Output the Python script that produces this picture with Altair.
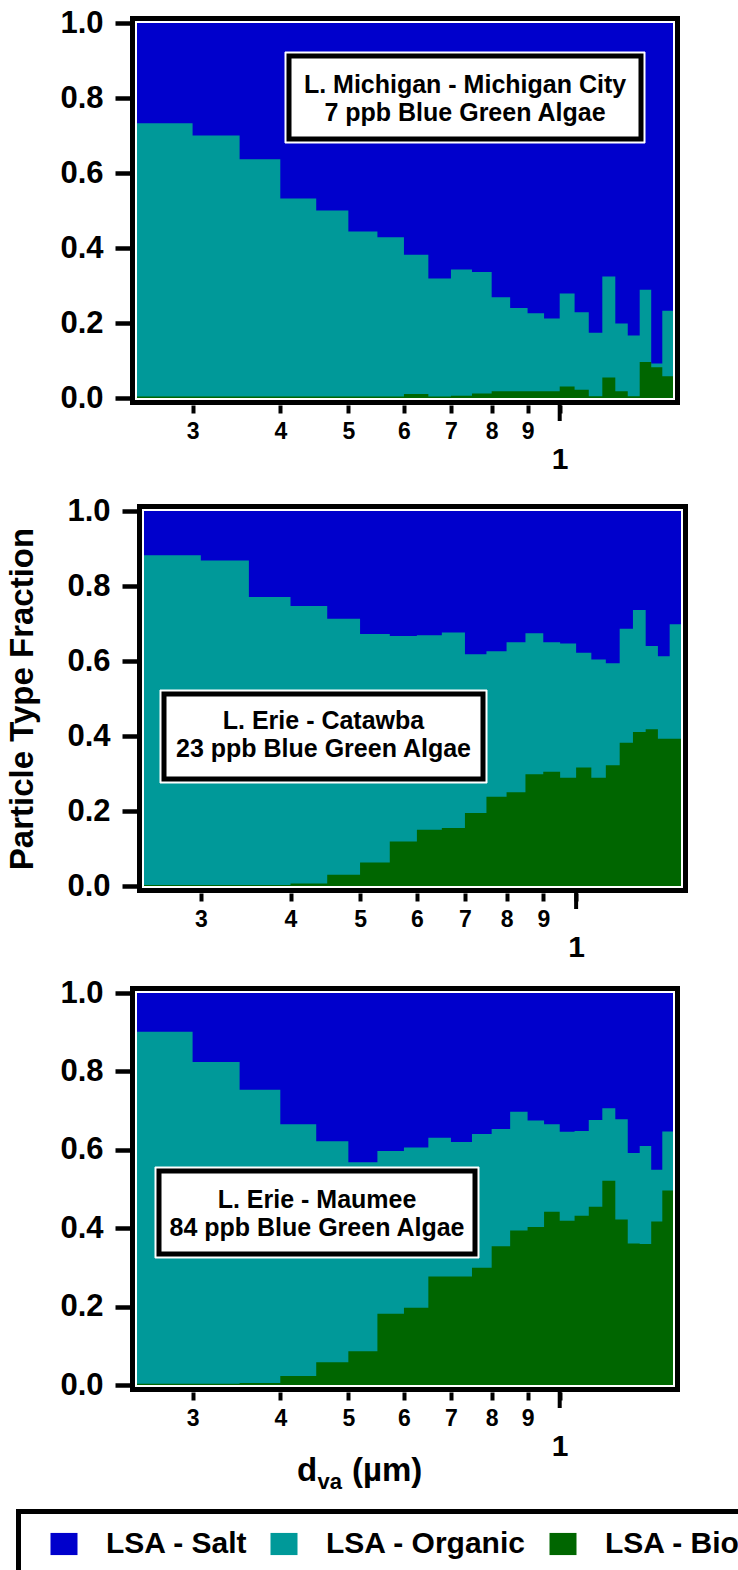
import altair as alt
import pandas as pd

FONT = "Liberation Sans"

# ---- bin edges (dva, micrometres) ----
EDGES_A = [0.25, 0.30, 0.35, 0.40, 0.45, 0.50, 0.55, 0.60, 0.65, 0.70, 0.75, 0.80, 0.85,
           0.90, 0.95, 1.00, 1.05, 1.10, 1.15, 1.20, 1.25, 1.30, 1.35, 1.40, 1.45]
EDGES_B = [0.25, 0.30, 0.35, 0.40, 0.45, 0.50, 0.55, 0.60, 0.65, 0.70, 0.75, 0.80, 0.85,
           0.90, 0.95, 1.00, 1.05, 1.10, 1.15, 1.20, 1.25, 1.30, 1.35, 1.40]

TYPES = ["LSA - Salt", "LSA - Organic", "LSA - Bio"]
COLORS = ["#0000CC", "#009999", "#006600"]

# ---- L. Michigan - Michigan City ----
MI_ORGANIC = [0.729, 0.696, 0.633, 0.528, 0.496, 0.440, 0.425, 0.371, 0.315, 0.337, 0.324, 0.251,
              0.222, 0.208, 0.194, 0.248, 0.207, 0.169, 0.269, 0.181, 0.162, 0.193, 0.010, 0.175]
MI_BIO = [0.004, 0.004, 0.004, 0.004, 0.004, 0.004, 0.004, 0.011, 0.004, 0.006, 0.012, 0.018,
          0.018, 0.018, 0.018, 0.031, 0.022, 0.005, 0.055, 0.018, 0.005, 0.096, 0.082, 0.058]

# ---- L. Erie - Catawba ----
CA_ORGANIC = [0.879, 0.865, 0.768, 0.740, 0.683, 0.609, 0.548, 0.519, 0.521, 0.423, 0.388, 0.400,
              0.376, 0.345, 0.358, 0.306, 0.315, 0.272, 0.304, 0.325, 0.222, 0.220, 0.305]
CA_BIO = [0.003, 0.003, 0.003, 0.007, 0.030, 0.063, 0.119, 0.150, 0.155, 0.195, 0.238, 0.250,
          0.298, 0.305, 0.289, 0.316, 0.289, 0.322, 0.382, 0.411, 0.418, 0.393, 0.393]

# ---- L. Erie - Maumee ----
MA_ORGANIC = [0.898, 0.821, 0.748, 0.642, 0.564, 0.482, 0.415, 0.409, 0.354, 0.343, 0.341, 0.299,
              0.303, 0.272, 0.223, 0.227, 0.216, 0.221, 0.185, 0.256, 0.231, 0.250, 0.132, 0.151]
MA_BIO = [0.003, 0.003, 0.005, 0.023, 0.058, 0.086, 0.182, 0.197, 0.277, 0.277, 0.299, 0.354,
          0.394, 0.403, 0.442, 0.419, 0.432, 0.455, 0.521, 0.422, 0.361, 0.360, 0.417, 0.496]

X_TICKS = [0.3, 0.4, 0.5, 0.6, 0.7, 0.8, 0.9, 1.0]
Y_TICKS = [0.0, 0.2, 0.4, 0.6, 0.8, 1.0]


def long_df(edges, organic, bio):
    rows = []
    n = len(organic)
    for i, x in enumerate(edges):
        j = min(i, n - 1)
        rows.append({"d": x, "type": "LSA - Salt", "top": 1.0})
        rows.append({"d": x, "type": "LSA - Organic", "top": organic[j] + bio[j]})
        rows.append({"d": x, "type": "LSA - Bio", "top": bio[j]})
    return pd.DataFrame(rows)


ONE = pd.DataFrame({"d": [1.0]})

color = alt.Color(
    "type:N",
    scale=alt.Scale(domain=TYPES, range=COLORS),
    legend=alt.Legend(
        orient="none", legendX=-88, legendY=1506, direction="horizontal", title=None,
        symbolType="M-1,-0.82H1V0.82H-1Z", symbolSize=729, symbolStrokeWidth=0,
        symbolOpacity=1, labelFont=FONT, labelFontSize=30, labelFontWeight="bold",
        labelColor="black", labelOffset=27, columnPadding=21, padding=0, labelLimit=0,
    ),
)


def txt(one, s, x, y, size, align="center", baseline="middle"):
    return one.mark_text(font=FONT, fontSize=size, fontWeight="bold", color="black",
                         align=align, baseline=baseline).encode(
        x=alt.value(x), y=alt.value(y), text=alt.value(s))


def panel(edges, organic, bio, W, H, x0, x1, yb, box, lines, ytitle=None, extra=None):
    """W,H: view size; [x0,x1] and [yb (bottom), 0 (top)]: data rectangle in pixels."""
    df = long_df(edges, organic, bio)
    xscale = alt.Scale(type="log", domain=[edges[0], edges[-1]], nice=False, range=[x0, x1])
    xaxis = alt.Axis(
        values=X_TICKS, title=None, domain=False, grid=False, offset=7 - (H - yb),
        tickSize=8, tickWidth=4, tickColor="black", labelPadding=7,
        labelExpr="datum.value == 1 ? ['', '1'] : format(datum.value * 10, '.0f')",
        labelFontSize={"condition": {"test": "datum.value == 1", "value": 30}, "value": 23},
        labelFontWeight="bold", labelFont=FONT, labelColor="black",
        labelLineHeight=24, labelFlush=False, labelOverlap=False,
    )
    yargs = dict(
        values=Y_TICKS, format=".1f", domain=False, grid=False, offset=7 - x0,
        tickSize=15, tickWidth=4.5, tickColor="black", labelPadding=12,
        labelFontSize=31, labelFontWeight="bold", labelFont=FONT, labelColor="black",
        labelFlush=False, labelOverlap=False,
    )
    if ytitle:
        yargs.update(title=ytitle, titleFontSize=33, titlePadding=27, titleFont=FONT,
                     titleFontWeight="bold", titleColor="black")
    else:
        yargs.update(title=None)
    yaxis = alt.Axis(**yargs)
    x = alt.X("d:Q", scale=xscale, axis=xaxis)
    y = alt.Y("top:Q", scale=alt.Scale(domain=[0, 1], nice=False, range=[yb, 0]),
              axis=yaxis, stack=None)

    layers = []
    for t in TYPES:
        layers.append(
            alt.Chart(df).transform_filter(alt.datum.type == t)
            .mark_area(interpolate="step-after")
            .encode(x=x, y=y, color=color)
        )
    one = alt.Chart(ONE)
    # frame: thin white line then thick black line
    layers.append(one.mark_rect(fillOpacity=0, stroke="white", strokeWidth=2).encode(
        x=alt.value(x0 - 1), x2=alt.value(x1 + 1), y=alt.value(-1), y2=alt.value(yb + 1)))
    layers.append(one.mark_rect(fillOpacity=0, stroke="black", strokeWidth=5).encode(
        x=alt.value(x0 - 4.5), x2=alt.value(x1 + 4.5), y=alt.value(-4.5), y2=alt.value(yb + 4.5)))
    # longer major tick at 1
    layers.append(one.mark_rule(color="black", strokeWidth=4).encode(
        x=x, y=alt.value(yb + 7), y2=alt.value(yb + 23)))
    # annotation box
    bx1, by1, bx2, by2, tx, ty1, ty2 = box
    layers.append(one.mark_rect(fill="white", stroke="white", strokeWidth=1).encode(
        x=alt.value(bx1), x2=alt.value(bx2), y=alt.value(by1), y2=alt.value(by2)))
    layers.append(one.mark_rect(fill="white", stroke="black", strokeWidth=5).encode(
        x=alt.value(bx1 + 4), x2=alt.value(bx2 - 4), y=alt.value(by1 + 4), y2=alt.value(by2 - 4)))
    for ty, s in zip((ty1, ty2), lines):
        layers.append(txt(one, s, tx, ty, 25))
    if extra:
        layers.extend(extra(one, yb))
    return alt.layer(*layers).properties(width=W, height=H)


def bottom_extras(one, yb):
    return [
        # x-axis title: d_va (µm)
        txt(one, "d", 160, yb + 96, 33, align="left", baseline="alphabetic"),
        txt(one, "va", 180.5, yb + 104, 22, align="left", baseline="alphabetic"),
        txt(one, "(µm)", 215, yb + 96, 33, align="left", baseline="alphabetic"),
        # legend frame
        one.mark_rect(fillOpacity=0, stroke="black", strokeWidth=5).encode(
            x=alt.value(-118.5), x2=alt.value(900), y=alt.value(yb + 126.5), y2=alt.value(yb + 400)),
    ]


p1 = panel(EDGES_A, MI_ORGANIC, MI_BIO, 536, 381, 0, 536, 375,
           (148, 29, 508, 120, 328, 62, 90),
           ["L. Michigan - Michigan City", "7 ppb Blue Green Algae"])
p2 = panel(EDGES_B, CA_ORGANIC, CA_BIO, 544, 375, 7, 544, 375,
           (23, 179, 350, 272, 186.5, 210, 238),
           ["L. Erie - Catawba", "23 ppb Blue Green Algae"],
           ytitle="Particle Type Fraction")
p3 = panel(EDGES_A, MA_ORGANIC, MA_BIO, 536, 392, 0, 536, 392,
           (18, 174, 342, 265, 180, 207, 235),
           ["L. Erie - Maumee", "84 ppb Blue Green Algae"],
           extra=bottom_extras)

chart = alt.vconcat(p1, p2, p3, spacing=107, bounds="flush").properties(
    autosize=alt.AutoSizeParams(type="none"),
    padding={"left": 137, "top": 23, "right": 601, "bottom": 1547},
).configure_view(stroke=None).configure(background="white")

chart.save("out.html", embed_options={"renderer": "svg", "actions": False})
